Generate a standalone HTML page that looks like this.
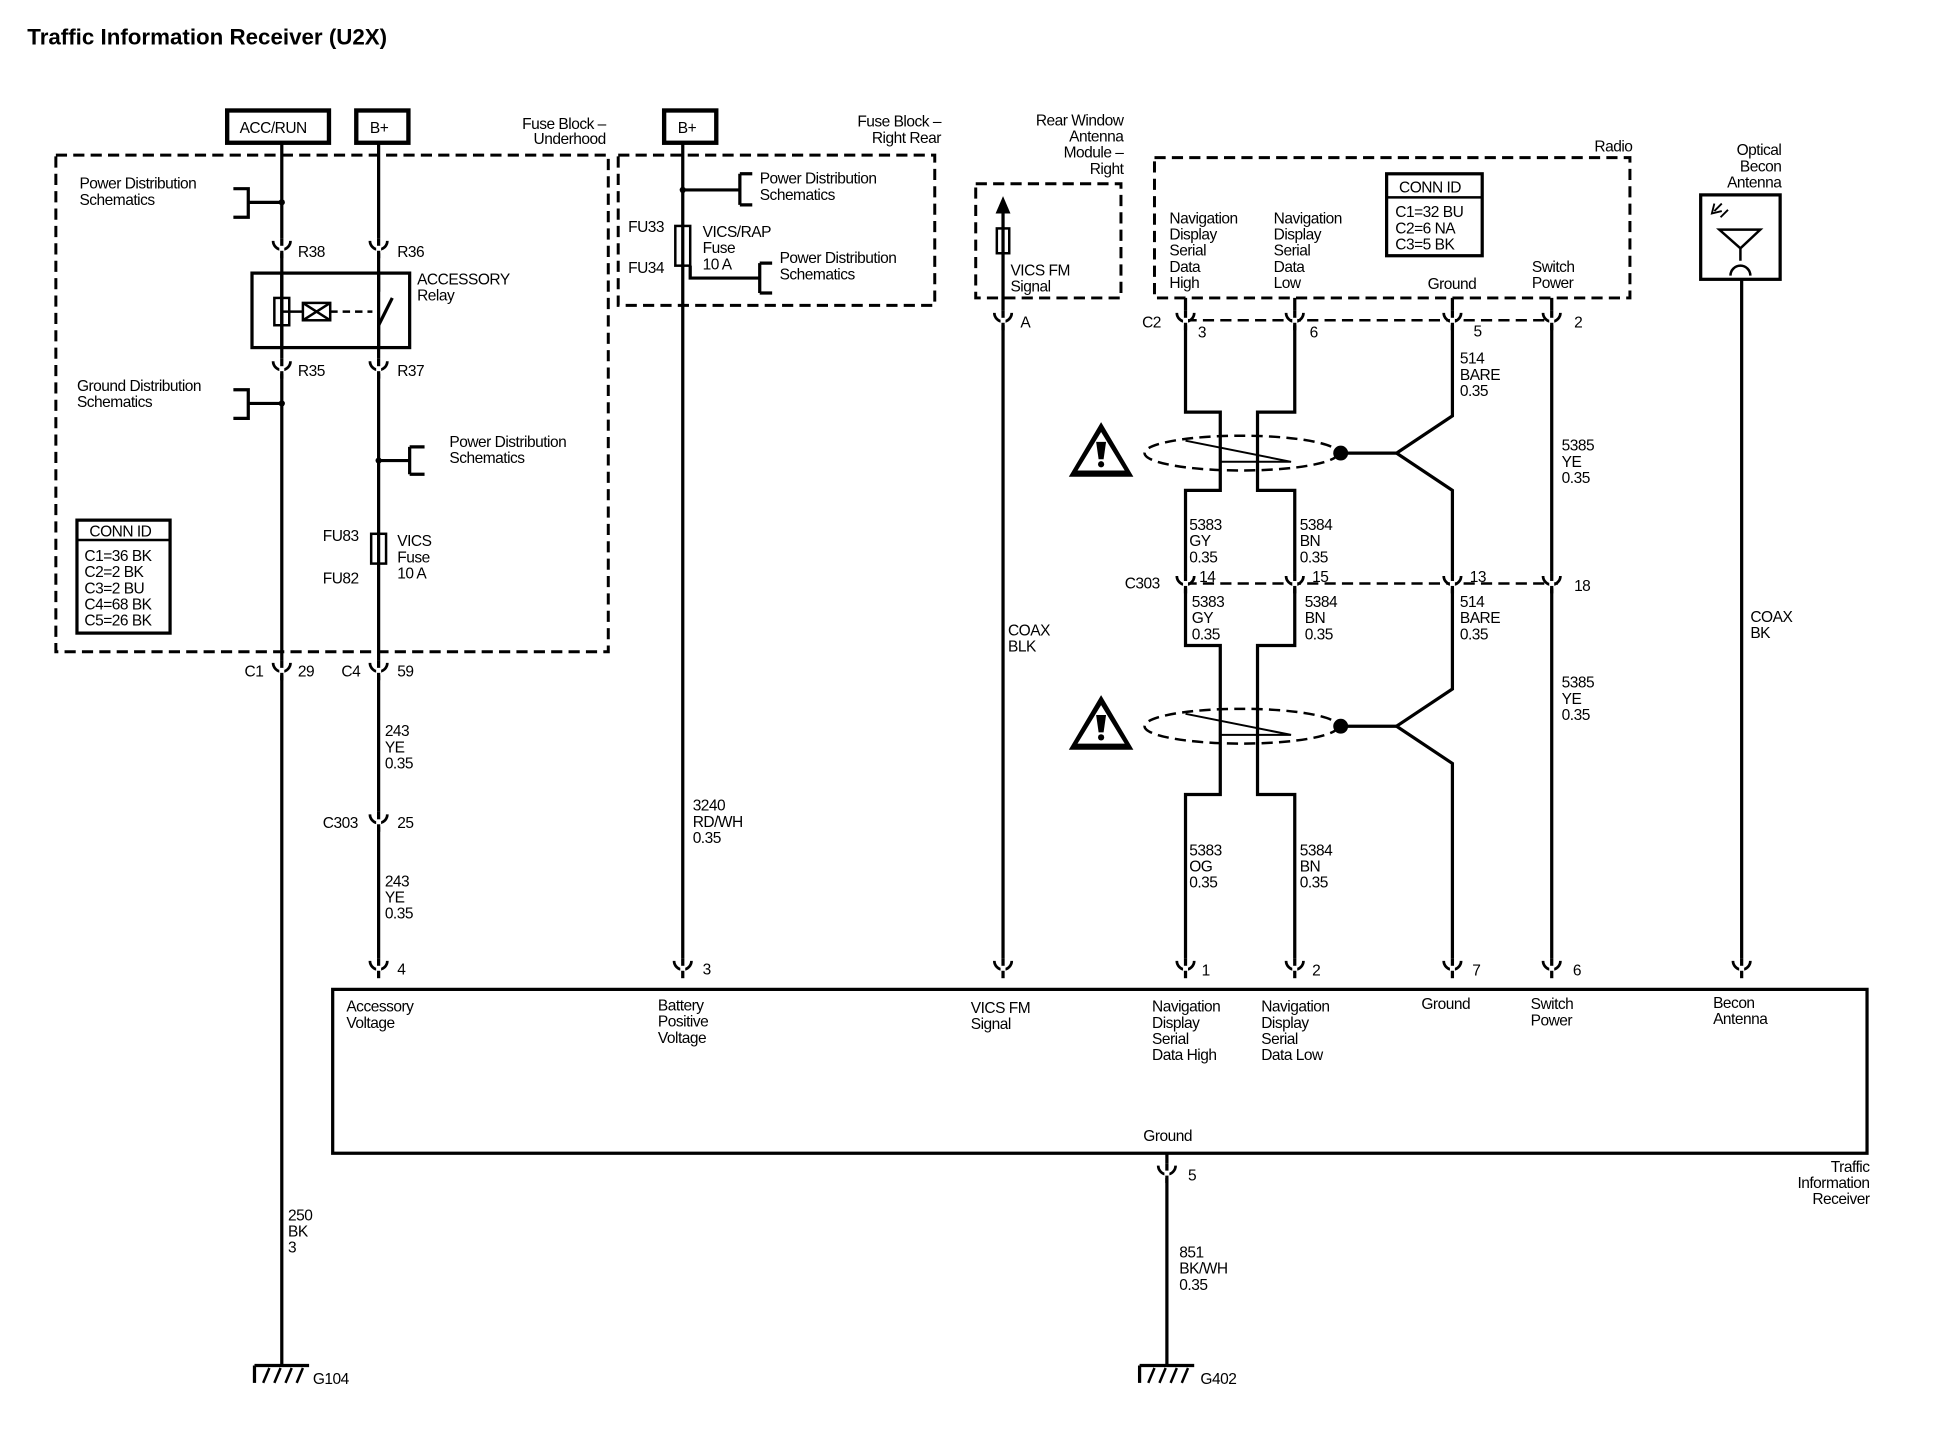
<!DOCTYPE html>
<html><head><meta charset="utf-8"><style>
html,body{margin:0;padding:0;background:#fff}
svg{display:block}
text{font-family:"Liberation Sans",sans-serif;font-size:12.5px;fill:#000;letter-spacing:-0.4px}
.t{font-size:18px;font-weight:bold;letter-spacing:0}
.w{stroke:#000;stroke-width:2.6;fill:none}
.d{stroke:#000;stroke-width:2.4;fill:none;stroke-dasharray:9,5}
.b{stroke:#000;stroke-width:2;fill:none}
</style></head><body>
<svg width="1944" height="1440" viewBox="0 0 1566 1160" preserveAspectRatio="none" xmlns="http://www.w3.org/2000/svg">
<defs>
<g id="cn"><path d="M-7,-6 A7,7 0 0 0 7,-6" class="b" style="stroke-width:2.2"/><rect x="-2" y="-8" width="4" height="12" fill="#fff"/><line x1="0" y1="-8" x2="0" y2="-2" class="w"/><line x1="0" y1="2" x2="0" y2="8" class="w"/></g>
<g id="gnd"><line x1="-22" y1="0" x2="22" y2="0" class="w"/><line x1="-22" y1="0" x2="-22" y2="14" class="w"/><line x1="-10" y1="2" x2="-15" y2="14" class="b"/><line x1="-1" y1="2" x2="-6" y2="14" class="b"/><line x1="8" y1="2" x2="3" y2="14" class="b"/><line x1="17" y1="2" x2="12" y2="14" class="b"/></g>
<g id="warn"><path d="M0,-22 L26,22 L-26,22 Z" fill="#000"/><path d="M0,-14 L19,17 L-19,17 Z" fill="#fff"/><path d="M-4,-6 L4,-6 L2,8 L-2,8 Z" fill="#000"/><circle cx="0" cy="12" r="2.5" fill="#000"/></g>
</defs>
<text x="22" y="36" class="t">Traffic Information Receiver (U2X)</text>

<rect x="183" y="89" width="82" height="26" class="w" style="stroke-width:3.5"/><text x="193" y="107">ACC/RUN</text>
<rect x="287" y="89" width="42" height="26" class="w" style="stroke-width:3.5"/><text x="298" y="107">B+</text>
<rect x="535" y="89" width="42" height="26" class="w" style="stroke-width:3.5"/><text x="546" y="107">B+</text>

<rect x="45" y="125" width="445" height="400" class="d"/>
<text x="488" y="104" text-anchor="end">Fuse Block –</text><text x="488" y="116" text-anchor="end">Underhood</text>
<rect x="498" y="125" width="255" height="121" class="d"/>
<text x="758" y="102" text-anchor="end">Fuse Block –</text><text x="758" y="115" text-anchor="end">Right Rear</text>
<rect x="786" y="148" width="117" height="92" class="d"/>
<text x="905" y="101" text-anchor="end">Rear Window</text><text x="905" y="114" text-anchor="end">Antenna</text><text x="905" y="127" text-anchor="end">Module –</text><text x="905" y="140" text-anchor="end">Right</text>
<rect x="930" y="127" width="383" height="113" class="d"/>
<text x="1315" y="122" text-anchor="end">Radio</text>
<rect x="1370" y="157" width="64" height="68" class="w"/>
<text x="1435" y="125" text-anchor="end">Optical</text><text x="1435" y="138" text-anchor="end">Becon</text><text x="1435" y="151" text-anchor="end">Antenna</text>
<path d="M1385,185 L1418,185 L1402,200 Z M1402,200 L1402,210" class="b"/><path d="M1394,222 A8,8 0 0 1 1410,222" class="b"/>
<path d="M1381,170 l6,-6 M1386,175 l6,-6 M1381,164 l-2,8 l8,-2" class="b" style="stroke-width:1.5"/>

<text x="64" y="152">Power Distribution</text><text x="64" y="165">Schematics</text>
<path d="M188,152 L200,152 L200,175 L188,175 M200,163 L227,163" class="w"/><circle cx="227" cy="163" r="2.5"/>
<text x="62" y="315">Ground Distribution</text><text x="62" y="328">Schematics</text>
<path d="M188,314 L200,314 L200,337 L188,337 M200,325 L227,325" class="w"/><circle cx="227" cy="325" r="2.5"/>
<rect x="62" y="419" width="75" height="91" class="w"/><line x1="62" y1="435" x2="137" y2="435" class="b"/>
<text x="72" y="432">CONN ID</text><text x="68" y="452">C1=36 BK</text><text x="68" y="465">C2=2 BK</text><text x="68" y="478">C3=2 BU</text><text x="68" y="491">C4=68 BK</text><text x="68" y="504">C5=26 BK</text>

<line x1="227" y1="115" x2="227" y2="1100" class="w"/>
<line x1="305" y1="115" x2="305" y2="780" class="w"/>
<use href="#cn" x="227" y="200"/><use href="#cn" x="305" y="200"/>
<use href="#cn" x="227" y="297"/><use href="#cn" x="305" y="297"/>
<text x="240" y="207">R38</text><text x="320" y="207">R36</text>
<text x="240" y="303">R35</text><text x="320" y="303">R37</text>
<rect x="203" y="220" width="127" height="60" class="w" fill="#fff"/>
<line x1="227" y1="220" x2="227" y2="280" class="w"/><line x1="305" y1="220" x2="305" y2="235" class="w"/><line x1="305" y1="262" x2="305" y2="280" class="w"/>
<line x1="305" y1="262" x2="316" y2="240" class="w"/>
<rect x="221" y="240" width="12" height="22" class="b" fill="#fff"/>
<rect x="244" y="244" width="22" height="14" class="b" fill="#fff"/><path d="M244,244 L266,258 M266,244 L244,258" class="b"/>
<line x1="227" y1="251" x2="244" y2="251" class="b"/><line x1="266" y1="251" x2="300" y2="251" class="b" stroke-dasharray="6,4"/>
<text x="336" y="229">ACCESSORY</text><text x="336" y="242">Relay</text>
<circle cx="305" cy="371" r="2.5"/><path d="M305,371 L330,371 M330,360 L330,382 M330,360 L342,360 M330,382 L342,382" class="w"/>
<text x="362" y="360">Power Distribution</text><text x="362" y="373">Schematics</text>
<rect x="299" y="430" width="12" height="24" class="b" fill="#fff"/>
<text x="260" y="436">FU83</text><text x="260" y="470">FU82</text>
<text x="320" y="440">VICS</text><text x="320" y="453">Fuse</text><text x="320" y="466">10 A</text>
<use href="#cn" x="227" y="540"/><use href="#cn" x="305" y="540"/>
<text x="197" y="545">C1</text><text x="240" y="545">29</text><text x="275" y="545">C4</text><text x="320" y="545">59</text>
<text x="310" y="593">243</text><text x="310" y="606">YE</text><text x="310" y="619">0.35</text>
<use href="#cn" x="305" y="662"/><text x="260" y="667">C303</text><text x="320" y="667">25</text>
<text x="310" y="714">243</text><text x="310" y="727">YE</text><text x="310" y="740">0.35</text>
<text x="232" y="983">250</text><text x="232" y="996">BK</text><text x="232" y="1009">3</text>
<use href="#gnd" x="227" y="1100"/><text x="252" y="1115">G104</text>

<line x1="550" y1="115" x2="550" y2="780" class="w"/>
<circle cx="550" cy="153" r="2.5"/><path d="M550,153 L596,153 M596,140 L596,165 M596,140 L606,140 M596,165 L606,165" class="w"/>
<text x="612" y="148">Power Distribution</text><text x="612" y="161">Schematics</text>
<rect x="544" y="182" width="12" height="32" class="b" fill="#fff"/>
<text x="506" y="187">FU33</text><text x="506" y="220">FU34</text>
<text x="566" y="191">VICS/RAP</text><text x="566" y="204">Fuse</text><text x="566" y="217">10 A</text>
<path d="M556,214 L556,224 L612,224 M612,212 L612,236 M612,212 L622,212 M612,236 L622,236" class="w"/>
<text x="628" y="212">Power Distribution</text><text x="628" y="225">Schematics</text>
<text x="558" y="653">3240</text><text x="558" y="666">RD/WH</text><text x="558" y="679">0.35</text>

<line x1="808" y1="170" x2="808" y2="780" class="w"/><path d="M802,172 L808,158 L814,172 Z"/>
<rect x="803" y="184" width="10" height="20" class="b" fill="#fff"/>
<text x="814" y="222">VICS FM</text><text x="814" y="235">Signal</text>
<use href="#cn" x="808" y="258"/><text x="822" y="264">A</text>
<text x="812" y="512">COAX</text><text x="812" y="525">BLK</text>

<rect x="1117" y="140" width="77" height="66" class="w"/><line x1="1117" y1="159" x2="1194" y2="159" class="b"/>
<text x="1127" y="155">CONN ID</text><text x="1124" y="175">C1=32 BU</text><text x="1124" y="188">C2=6 NA</text><text x="1124" y="201">C3=5 BK</text>
<text x="942" y="180">Navigation</text><text x="942" y="193">Display</text><text x="942" y="206">Serial</text><text x="942" y="219">Data</text><text x="942" y="232">High</text>
<text x="1026" y="180">Navigation</text><text x="1026" y="193">Display</text><text x="1026" y="206">Serial</text><text x="1026" y="219">Data</text><text x="1026" y="232">Low</text>
<text x="1150" y="233">Ground</text><text x="1234" y="219">Switch</text><text x="1234" y="232">Power</text>
<line x1="955" y1="258" x2="1250" y2="258" class="d" style="stroke-width:2"/>
<line x1="955" y1="470" x2="1255" y2="470" class="d" style="stroke-width:2"/>
<path d="M955,240 L955,332 L983,332 L983,395 L955,395 L955,520 L983,520 L983,640 L955,640 L955,780" class="w"/>
<path d="M1043,240 L1043,332 L1013,332 L1013,395 L1043,395 L1043,520 L1013,520 L1013,640 L1043,640 L1043,780" class="w"/>
<path d="M1170,240 L1170,335 L1125,365 L1170,395 L1170,555 L1125,585 L1170,615 L1170,780" class="w"/>
<path d="M1080,365 L1125,365 M1080,585 L1125,585" class="w"/>
<line x1="1250" y1="240" x2="1250" y2="780" class="w"/>
<use href="#cn" x="955" y="258"/><use href="#cn" x="1043" y="258"/><use href="#cn" x="1170" y="258"/><use href="#cn" x="1250" y="258"/>
<text x="920" y="264">C2</text><text x="965" y="272">3</text><text x="1055" y="272">6</text><text x="1187" y="271">5</text><text x="1268" y="264">2</text>
<use href="#cn" x="955" y="470"/><use href="#cn" x="1043" y="470"/><use href="#cn" x="1170" y="470"/><use href="#cn" x="1250" y="470"/>
<text x="906" y="474">C303</text><text x="966" y="469">14</text><text x="1057" y="469">15</text><text x="1184" y="469">13</text><text x="1268" y="476">18</text>
<ellipse cx="1000" cy="365" rx="78" ry="14" class="d" style="stroke-width:2"/><ellipse cx="1000" cy="585" rx="78" ry="14" class="d" style="stroke-width:2"/>
<path d="M955,355 L1040,372 L983,372 M955,575 L1040,592 L983,592" class="b" style="stroke-width:1.6"/>
<circle cx="1080" cy="365" r="6"/><circle cx="1080" cy="585" r="6"/>
<use href="#warn" x="887" y="362"/><use href="#warn" x="887" y="582"/>
<text x="1176" y="293">514</text><text x="1176" y="306">BARE</text><text x="1176" y="319">0.35</text>
<text x="1258" y="363">5385</text><text x="1258" y="376">YE</text><text x="1258" y="389">0.35</text>
<text x="958" y="427">5383</text><text x="958" y="440">GY</text><text x="958" y="453">0.35</text>
<text x="1047" y="427">5384</text><text x="1047" y="440">BN</text><text x="1047" y="453">0.35</text>
<text x="960" y="489">5383</text><text x="960" y="502">GY</text><text x="960" y="515">0.35</text>
<text x="1051" y="489">5384</text><text x="1051" y="502">BN</text><text x="1051" y="515">0.35</text>
<text x="1176" y="489">514</text><text x="1176" y="502">BARE</text><text x="1176" y="515">0.35</text>
<text x="1258" y="554">5385</text><text x="1258" y="567">YE</text><text x="1258" y="580">0.35</text>
<text x="958" y="689">5383</text><text x="958" y="702">OG</text><text x="958" y="715">0.35</text>
<text x="1047" y="689">5384</text><text x="1047" y="702">BN</text><text x="1047" y="715">0.35</text>

<line x1="1403" y1="225" x2="1403" y2="780" class="w"/>
<text x="1410" y="501">COAX</text><text x="1410" y="514">BK</text>

<rect x="268" y="797" width="1236" height="132" class="w"/>
<use href="#cn" x="305" y="780"/><use href="#cn" x="550" y="780"/><use href="#cn" x="808" y="780"/><use href="#cn" x="955" y="780"/><use href="#cn" x="1043" y="780"/><use href="#cn" x="1170" y="780"/><use href="#cn" x="1250" y="780"/><use href="#cn" x="1403" y="780"/>
<text x="320" y="785">4</text><text x="566" y="785">3</text><text x="968" y="786">1</text><text x="1057" y="786">2</text><text x="1186" y="786">7</text><text x="1267" y="786">6</text>
<text x="279" y="815">Accessory</text><text x="279" y="828">Voltage</text>
<text x="530" y="814">Battery</text><text x="530" y="827">Positive</text><text x="530" y="840">Voltage</text>
<text x="782" y="816">VICS FM</text><text x="782" y="829">Signal</text>
<text x="928" y="815">Navigation</text><text x="928" y="828">Display</text><text x="928" y="841">Serial</text><text x="928" y="854">Data High</text>
<text x="1016" y="815">Navigation</text><text x="1016" y="828">Display</text><text x="1016" y="841">Serial</text><text x="1016" y="854">Data Low</text>
<text x="1145" y="813">Ground</text><text x="1233" y="813">Switch</text><text x="1233" y="826">Power</text>
<text x="1380" y="812">Becon</text><text x="1380" y="825">Antenna</text>
<text x="921" y="919">Ground</text>
<text x="1506" y="944" text-anchor="end">Traffic</text><text x="1506" y="957" text-anchor="end">Information</text><text x="1506" y="970" text-anchor="end">Receiver</text>
<line x1="940" y1="929" x2="940" y2="1100" class="w"/><use href="#cn" x="940" y="945"/><text x="957" y="951">5</text>
<text x="950" y="1013">851</text><text x="950" y="1026">BK/WH</text><text x="950" y="1039">0.35</text>
<use href="#gnd" x="940" y="1100"/><text x="967" y="1115">G402</text>
</svg>
</body></html>
